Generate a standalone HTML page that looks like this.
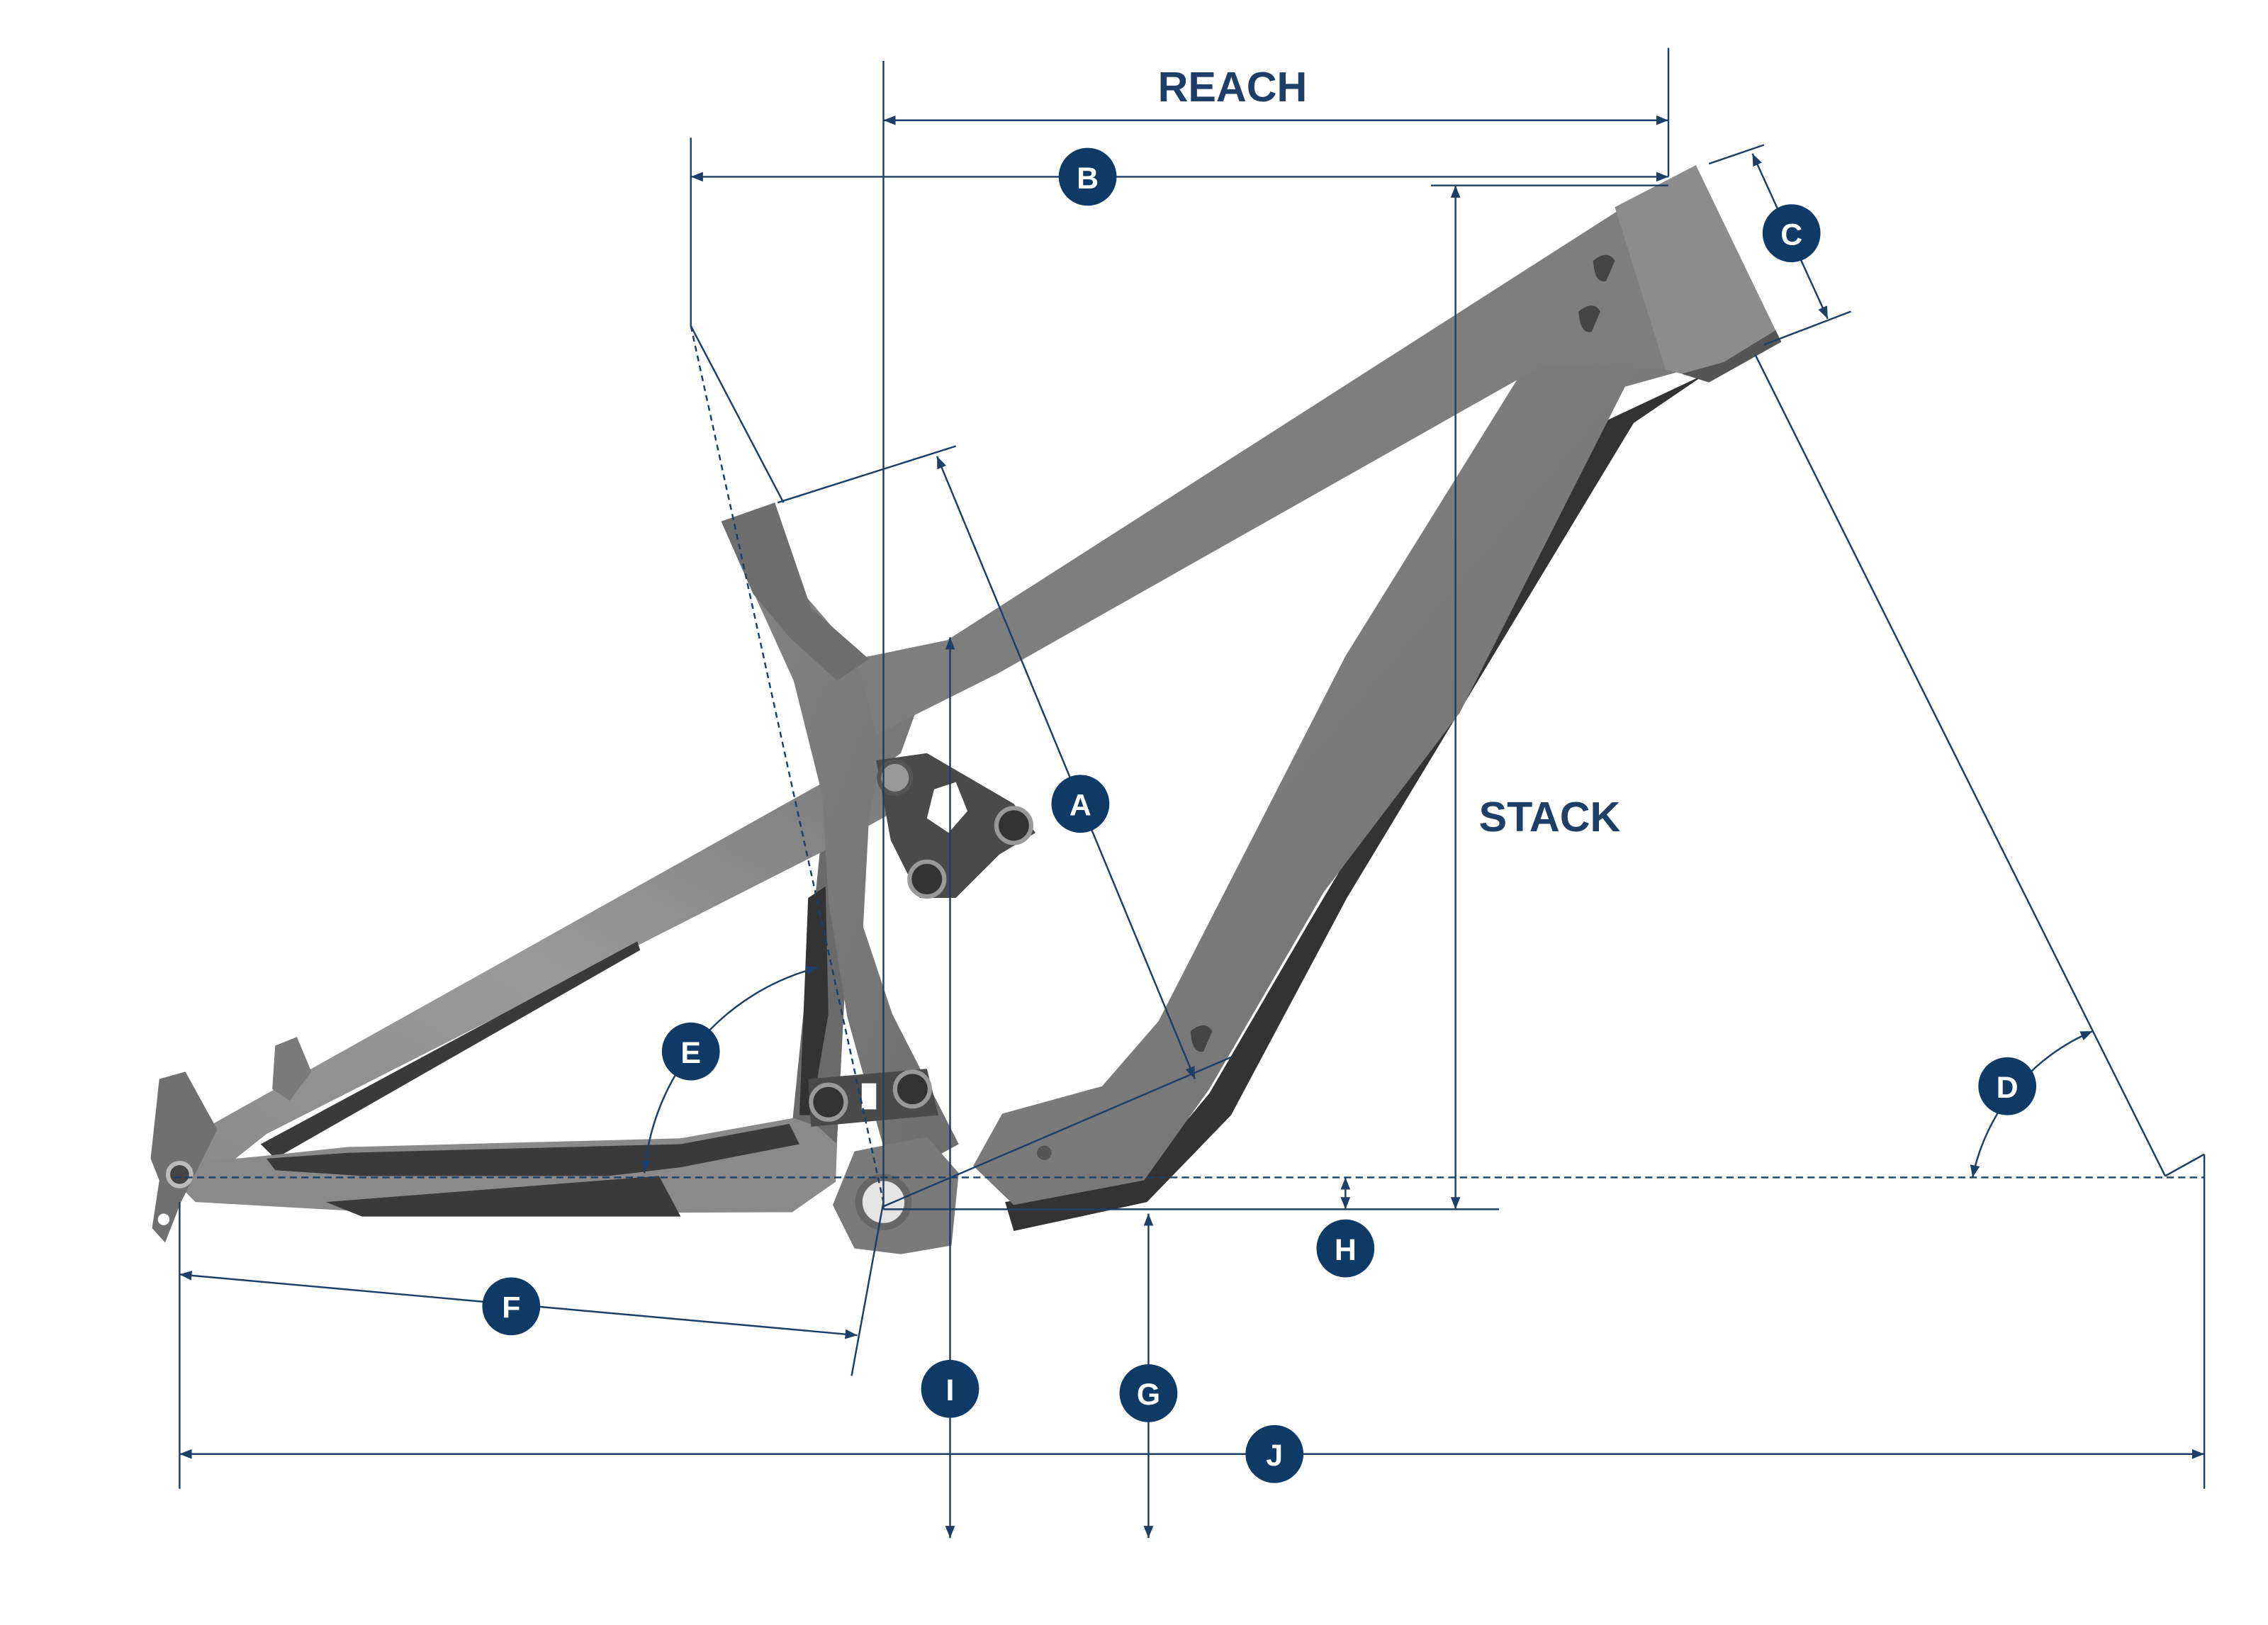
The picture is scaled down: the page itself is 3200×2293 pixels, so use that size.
<!DOCTYPE html>
<html><head><meta charset="utf-8">
<style>
html,body{margin:0;padding:0;background:#fff;}
svg{display:block;}
text{font-family:"Liberation Sans",sans-serif;font-weight:bold;}
</style></head>
<body>
<svg width="3200" height="2293" viewBox="0 0 1566 1122" xmlns="http://www.w3.org/2000/svg">
<defs>
<marker id="ar" viewBox="0 0 10 10" refX="10" refY="5" markerWidth="7" markerHeight="7" orient="auto-start-reverse">
<path d="M0,1 L10,5 L0,9 z" fill="#1d3e66"/></marker>
<linearGradient id="fg" x1="0" y1="0" x2="1" y2="1">
<stop offset="0" stop-color="#868686"/><stop offset="1" stop-color="#6e6e6e"/></linearGradient>
<linearGradient id="ss" x1="0" y1="1" x2="1" y2="0">
<stop offset="0" stop-color="#8a8a8a"/><stop offset="0.5" stop-color="#9a9a9a"/><stop offset="1" stop-color="#7a7a7a"/></linearGradient>
</defs>

<!-- FRAME -->
<g>
<polygon points="566,589 582,580 583,690 577,807 547,790 547,776" fill="#6a6a6a"/>
<polygon points="558,620 570,612 572,700 560,770 552,770" fill="#333"/>
<polygon points="113,795 560,545 603,522 618,560 566,589 184,783 150,810" fill="url(#ss)"/>
<polygon points="180,790 440,650 442,656 190,800" fill="#3a3a3a"/>
<polygon points="110,805 184,798 240,792 470,786 548,772 565,778 578,790 577,816 547,837 278,838 135,830" fill="#8a8a8a"/>
<polygon points="184,800 240,796 470,790 545,776 552,790 470,806 420,812 250,812 190,808" fill="#3a3a3a"/>
<polygon points="225,830 455,812 470,840 250,840" fill="#3a3a3a"/>
<polygon points="110,745 128,740 150,780 125,830 114,858 105,848 110,815 104,800" fill="#707070"/>
<polygon points="190,722 205,716 215,740 200,760 188,752" fill="#7a7a7a"/>
<circle cx="124" cy="811" r="8" fill="#444" stroke="#bbb" stroke-width="3"/>
<circle cx="113" cy="842" r="4" fill="#fff"/>
<polygon points="498,360 535,347 555,410 591,452 640,470 622,520 606,532 600,565 596,640 616,700 662,790 640,802 610,792 585,702 572,622 568,550 548,470" fill="url(#fg)"/>
<polygon points="1178,258 1128,292 930,620 850,770 792,830 700,850 694,830 785,815 835,755 905,635 1110,290" fill="#333"/>
<polygon points="1055,250 1165,255 1122,267 1008,492 914,616 835,752 790,815 700,832 672,805 692,769 761,750 800,705 929,453" fill="url(#fg)"/>
<polygon points="591,455 654,442 1121,143 1165,125 1170,255 1064,253 689,465 605,507" fill="#7e7e7e"/>
<polygon points="1115,143 1171,114 1226,228 1190,250 1161,258 1150,255" fill="#8c8c8c"/>
<polygon points="1161,258 1190,250 1226,228 1230,236 1180,264" fill="#555"/>
<path d="M1100,180 q10,-8 15,0 l-6,14 q-8,2 -9,-14z" fill="#444"/>
<path d="M1090,215 q10,-8 15,0 l-6,14 q-8,2 -9,-14z" fill="#444"/>
<path d="M822,712 q10,-8 15,0 l-6,14 q-8,2 -9,-14z" fill="#444"/>
<circle cx="721" cy="796" r="5" fill="#555"/>
<polygon points="590,795 640,785 662,810 657,860 622,866 590,862 575,832" fill="#7a7a7a"/>
<circle cx="610" cy="830" r="17" fill="#e4e4e4" stroke="#666" stroke-width="5"/>
<polygon points="605,525 640,520 700,555 715,575 690,590 660,620 635,620 615,580" fill="#4a4a4a"/>
<polygon points="645,545 660,540 668,560 655,575 640,565" fill="#fff"/>
<circle cx="618" cy="537" r="11" fill="#999" stroke="#555" stroke-width="3"/>
<circle cx="700" cy="570" r="12" fill="#333" stroke="#999" stroke-width="3"/>
<circle cx="640" cy="607" r="12" fill="#333" stroke="#999" stroke-width="3"/>
<polygon points="558,745 640,738 648,770 560,778" fill="#4a4a4a"/>
<rect x="595" y="748" width="10" height="18" fill="#fff"/>
<circle cx="572" cy="761" r="12" fill="#333" stroke="#999" stroke-width="3"/>
<circle cx="630" cy="752" r="12" fill="#333" stroke="#999" stroke-width="3"/>
<polygon points="498,360 535,347 560,420 600,455 578,470 545,440 520,410" fill="#6e6e6e"/>
</g>

<!-- DIMENSIONS -->
<g stroke="#1d3e66" stroke-width="1.2" fill="none">
<line x1="610" y1="42" x2="610" y2="835"/>
<line x1="1152" y1="33" x2="1152" y2="122"/>
<line x1="610" y1="83" x2="1152" y2="83" marker-start="url(#ar)" marker-end="url(#ar)"/>
<line x1="477" y1="95" x2="477" y2="225"/>
<line x1="477" y1="225" x2="541" y2="347"/>
<line x1="477" y1="122" x2="1152" y2="122" marker-start="url(#ar)" marker-end="url(#ar)"/>
<line x1="477" y1="225" x2="610" y2="830" stroke-dasharray="4,3"/>
<line x1="988" y1="128" x2="1152" y2="128"/>
<line x1="1005" y1="128" x2="1005" y2="835" marker-start="url(#ar)" marker-end="url(#ar)"/>
<line x1="610" y1="835" x2="1035" y2="835"/>
<line x1="1180" y1="113" x2="1218" y2="100"/>
<line x1="1218" y1="238" x2="1278" y2="215"/>
<line x1="1210" y1="106" x2="1262" y2="220" marker-start="url(#ar)" marker-end="url(#ar)"/>
<line x1="1212" y1="245" x2="1495" y2="812"/>
<line x1="120" y1="813" x2="1522" y2="813" stroke-dasharray="5,3"/>
<path d="M1445,712 A140,140 0 0 0 1362,813" marker-start="url(#ar)" marker-end="url(#ar)"/>
<line x1="1495" y1="812" x2="1522" y2="797"/>
<line x1="1522" y1="797" x2="1522" y2="1028"/>
<line x1="929" y1="813" x2="929" y2="835" marker-start="url(#ar)" marker-end="url(#ar)"/>
<line x1="656" y1="440" x2="656" y2="1062" marker-start="url(#ar)" marker-end="url(#ar)"/>
<line x1="793" y1="838" x2="793" y2="1062" marker-start="url(#ar)" marker-end="url(#ar)"/>
<line x1="124" y1="830" x2="124" y2="1028"/>
<line x1="124" y1="1004" x2="1522" y2="1004" marker-start="url(#ar)" marker-end="url(#ar)"/>
<line x1="124" y1="880" x2="592" y2="922" marker-start="url(#ar)" marker-end="url(#ar)"/>
<line x1="610" y1="830" x2="588" y2="950"/>
<line x1="537" y1="347" x2="660" y2="308"/>
<line x1="647" y1="315" x2="825" y2="745" marker-start="url(#ar)" marker-end="url(#ar)"/>
<line x1="610" y1="833" x2="850" y2="730"/>
<path d="M565,668 A160,160 0 0 0 445,810" marker-start="url(#ar)" marker-end="url(#ar)"/>
</g>

<!-- LABELS -->
<g font-size="21" fill="#fff" text-anchor="middle">
<g><circle cx="751" cy="122" r="20" fill="#0f3a66"/><text x="751" y="130">B</text></g>
<g><circle cx="1237" cy="161" r="20" fill="#0f3a66"/><text x="1237" y="169">C</text></g>
<g><circle cx="746" cy="555" r="20" fill="#0f3a66"/><text x="746" y="563">A</text></g>
<g><circle cx="1386" cy="750" r="20" fill="#0f3a66"/><text x="1386" y="758">D</text></g>
<g><circle cx="477" cy="726" r="20" fill="#0f3a66"/><text x="477" y="734">E</text></g>
<g><circle cx="929" cy="862" r="20" fill="#0f3a66"/><text x="929" y="870">H</text></g>
<g><circle cx="353" cy="902" r="20" fill="#0f3a66"/><text x="353" y="910">F</text></g>
<g><circle cx="656" cy="959" r="20" fill="#0f3a66"/><text x="656" y="967">I</text></g>
<g><circle cx="793" cy="962" r="20" fill="#0f3a66"/><text x="793" y="970">G</text></g>
<g><circle cx="880" cy="1004" r="20" fill="#0f3a66"/><text x="880" y="1012">J</text></g>
</g>
<text x="851" y="70" font-size="29" fill="#1d3e66" text-anchor="middle">REACH</text>
<text x="1070" y="574" font-size="29" fill="#1d3e66" text-anchor="middle">STACK</text>
</svg>
</body></html>
